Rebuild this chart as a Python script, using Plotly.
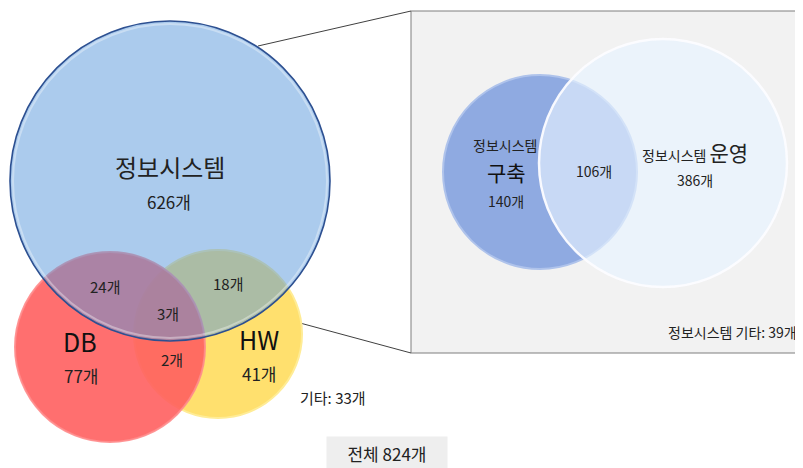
import plotly.graph_objects as go

# ---------------- data ----------------
main_sets = ["정보시스템", "DB", "HW"]
main_only_counts = [626, 77, 41]
pair_names = ["정보시스템∩DB", "정보시스템∩HW", "DB∩HW"]
pair_counts = [24, 18, 2]
triple_count = 3
other_label = "기타"
other_count = 33
total_label = "전체"
total_count = 824

inset_prefix = "정보시스템"
inset_sets = ["구축", "운영"]
inset_only_counts = [140, 386]
inset_both_count = 106
inset_other_count = 39
unit = "개"

# ---------------- layout geometry (pixels) ----------------
W, H = 803, 468
PAGE_MARGIN = 8  # browser default body margin
# circles: (cx, cy, r)
main_geom = [(170, 181, 160), (110, 347, 95), (218, 334, 84)]
inset_geom = [(540, 172, 97), (663, 163, 124)]
main_label_pos = [(170, 166), (80, 341), (259, 339)]
main_count_pos = [(169, 201), (81, 375), (259, 373)]
pair_pos = [(105, 286), (228, 283), (172, 359)]
triple_pos = (168, 313)
other_pos = (333, 397)
total_pos = (387, 453)
box = (411, 11, 808, 353)

FONT = "Noto Sans CJK KR, Noto Sans, sans-serif"

fig = go.Figure()
shapes = []
ann = []


def circle(c, fill, line_color, line_width):
    cx, cy, r = c
    return dict(type="circle", xref="x", yref="y", x0=cx - r, x1=cx + r,
                y0=cy - r, y1=cy + r, fillcolor=fill,
                line=dict(color=line_color, width=line_width))


def text(x, y, s, size, color="#222222"):
    ann.append(dict(x=x, y=y, xref="x", yref="y", text=s, showarrow=False,
                    font=dict(family=FONT, size=size, color=color),
                    xanchor="center", yanchor="middle"))


# inset box and connector lines
shapes.append(dict(type="rect", xref="x", yref="y", x0=box[0], y0=box[1], x1=box[2], y1=box[3],
                   fillcolor="#f2f2f2", line=dict(color="#7f7f7f", width=1)))
shapes.append(dict(type="line", xref="x", yref="y", x0=258, y0=46, x1=box[0], y1=box[1],
                   line=dict(color="#404040", width=1)))
shapes.append(dict(type="line", xref="x", yref="y", x0=263, y0=313, x1=box[0], y1=box[3],
                   line=dict(color="#404040", width=1)))

# main venn: HW (yellow), DB (red), info system (blue)
shapes.append(circle(main_geom[2], "rgb(255,224,110)", "rgb(255,236,150)", 2))
shapes.append(circle(main_geom[1], "rgba(255,95,95,0.9)", "rgba(255,140,140,0.9)", 2))
shapes.append(circle(main_geom[0], "rgba(88,152,220,0.5)", "rgb(45,80,145)", 1.6))
cx, cy, r = main_geom[0]
shapes.append(circle((cx, cy, r - 3), "rgba(0,0,0,0)", "rgba(255,255,255,0.35)", 2))

# inset venn
shapes.append(circle(inset_geom[0], "rgb(143,170,225)", "rgb(175,195,235)", 2))
shapes.append(circle(inset_geom[1], "rgba(231,243,255,0.65)", "rgba(252,252,255,0.95)", 2.5))

# main text
text(*main_label_pos[0], main_sets[0], 24)
text(*main_count_pos[0], f"{main_only_counts[0]}{unit}", 17)
for i in (1, 2):
    text(*main_label_pos[i], main_sets[i], 25, "#111111")
    text(*main_count_pos[i], f"{main_only_counts[i]}{unit}", 17)
for p, c in zip(pair_pos, pair_counts):
    text(*p, f"{c}{unit}", 15)
text(*triple_pos, f"{triple_count}{unit}", 15)
text(*other_pos, f"{other_label}: {other_count}{unit}", 15)

# total with grey background
ann.append(dict(x=total_pos[0], y=total_pos[1], xref="x", yref="y",
                text=f"{total_label} {total_count}{unit}", showarrow=False,
                font=dict(family=FONT, size=17, color="#222222"),
                bgcolor="#eeeeee", borderpad=4, width=112,
                xanchor="center", yanchor="middle"))

# inset text
text(505, 145, inset_prefix, 14)
text(506, 172, inset_sets[0], 21, "#111111")
text(506, 201, f"{inset_only_counts[0]}{unit}", 14)
text(594, 171, f"{inset_both_count}{unit}", 14)
text(695, 152, f"{inset_prefix} <span style='font-size:21px'>{inset_sets[1]}</span>", 14)
text(695, 180, f"{inset_only_counts[1]}{unit}", 14)
text(732, 332, f"{inset_prefix} {other_label}: {inset_other_count}{unit}", 14)

fig.update_layout(
    width=W - PAGE_MARGIN, height=H - PAGE_MARGIN, margin=dict(l=0, r=0, t=0, b=0),
    paper_bgcolor="white", plot_bgcolor="white",
    xaxis=dict(range=[PAGE_MARGIN, W], visible=False, fixedrange=True),
    yaxis=dict(range=[H, PAGE_MARGIN], visible=False, fixedrange=True),
    shapes=shapes, annotations=ann, showlegend=False,
)
fig.write_html("out.html", config=dict(displayModeBar=False))
